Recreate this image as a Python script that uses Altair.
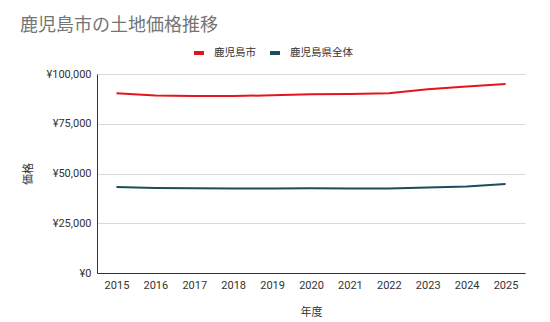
import altair as alt
import pandas as pd

years = [str(y) for y in range(2015, 2026)]
city = [90300, 89200, 88900, 88900, 89300, 89800, 90000, 90300, 92300, 93700, 95000]
pref = [43200, 42700, 42600, 42500, 42500, 42600, 42400, 42400, 43000, 43500, 44700]
series_names = ["鹿児島市", "鹿児島県全体"]
colors = ["#e3151c", "#1b4d5c"]

rows = []
for y, a, b in zip(years, city, pref):
    rows.append({"年度": y, "系列": series_names[0], "価格": a})
    rows.append({"年度": y, "系列": series_names[1], "価格": b})
df = pd.DataFrame(rows)

FONT = "Roboto, 'Noto Sans CJK JP', sans-serif"

chart = alt.Chart(df).mark_line(strokeWidth=2).encode(
    x=alt.X("年度:O", title="年度",
            axis=alt.Axis(labelAngle=0, ticks=False, domainColor="#333333",
                          labelColor="#333333", labelFontSize=11, labelPadding=6,
                          titleFontSize=11, titleFontWeight="normal", titleColor="#333333",
                          titlePadding=16, grid=False)),
    y=alt.Y("価格:Q", title="価格",
            scale=alt.Scale(domain=[0, 100000], nice=False),
            axis=alt.Axis(values=[0, 25000, 50000, 75000, 100000],
                          labelExpr="'¥' + format(datum.value, ',')",
                          ticks=False, domainColor="#333333", gridColor="#d9d9d9",
                          labelColor="#333333", labelFontSize=11, labelPadding=6,
                          titleFontSize=11, titleFontWeight="normal", titleColor="#333333",
                          titlePadding=12)),
    color=alt.Color("系列:N", scale=alt.Scale(domain=series_names, range=colors),
                    sort=series_names,
                    legend=alt.Legend(title=None, orient="none", legendX=95, legendY=-28,
                                      direction="horizontal", gridAlign="none",
                                      symbolType="stroke", symbolSize=100,
                                      symbolStrokeWidth=4,
                                      labelFontSize=10.5, labelColor="#333333",
                                      columnPadding=6, labelOffset=8)),
).properties(
    width=428, height=199,
    title=alt.Title("鹿児島市の土地価格推移", anchor="start", frame="group", dx=-77,
                    offset=11, fontSize=18, fontWeight="normal", color="#757575", font=FONT),
    padding={"left": 97, "top": 74, "right": 25, "bottom": 49},
    autosize=alt.AutoSizeParams(type="none"),
).configure(font=FONT).configure_view(stroke=None).configure_scale(pointPadding=0.5)

chart.save("out.html", embed_options={"renderer": "svg", "actions": False})
